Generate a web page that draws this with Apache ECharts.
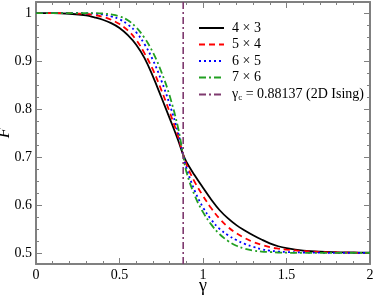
<!DOCTYPE html>
<html>
<head>
<meta charset="utf-8">
<script src="https://cdn.jsdelivr.net/npm/echarts@6/dist/echarts.min.js"></script>
<style>html,body{margin:0;padding:0;background:#fff;}#c{width:374px;height:295px;}</style>
</head>
<body>
<div id="c"></div>
<script>
const gamma = [0,0.1,0.2,0.3,0.35,0.4,0.45,0.5,0.55,0.6,0.65,0.7,0.75,0.8,0.85,0.88,0.9,0.95,1.0,1.05,1.1,1.15,1.2,1.25,1.3,1.35,1.4,1.45,1.5,1.6,1.7,1.8,1.9,2.0];
const f4x3 = [1.0,0.9999,0.9985,0.995,0.991,0.986,0.979,0.969,0.954,0.934,0.906,0.868,0.825,0.781,0.736,0.706,0.690,0.662,0.636,0.611,0.589,0.572,0.558,0.547,0.537,0.528,0.520,0.514,0.510,0.505,0.5025,0.5015,0.501,0.5005];
const f5x4 = [1.0,1.0,0.9998,0.998,0.996,0.992,0.986,0.977,0.964,0.944,0.916,0.882,0.840,0.794,0.744,0.706,0.685,0.648,0.619,0.593,0.571,0.554,0.541,0.531,0.523,0.517,0.512,0.509,0.507,0.504,0.502,0.501,0.5005,0.5];
const f6x5 = [1.0,1.0,1.0,0.9995,0.999,0.997,0.993,0.987,0.976,0.960,0.935,0.902,0.860,0.810,0.752,0.706,0.678,0.630,0.595,0.569,0.550,0.537,0.527,0.519,0.513,0.508,0.505,0.503,0.502,0.501,0.5005,0.5,0.5,0.5];
const f7x6 = [1.0,1.0,1.0,1.0,0.9998,0.999,0.997,0.993,0.985,0.970,0.948,0.918,0.878,0.828,0.762,0.706,0.670,0.620,0.585,0.559,0.539,0.525,0.515,0.509,0.505,0.503,0.502,0.501,0.5005,0.5,0.5,0.5,0.5,0.5];
const gammaC = 0.88137;
const seriesNames = ['4 × 3','5 × 4','6 × 5','7 × 6','γc = 0.88137 (2D Ising)'];
const yMajorTicks = [0.5,0.6,0.7,0.8,0.9,1.0];
const yMinorTicks = [0.5,0.525,0.55,0.575,0.6,0.625,0.65,0.675,0.7,0.725,0.75,0.775,0.8,0.825,0.85,0.875,0.9,0.925,0.95,0.975,1.0];
const yMin = 0.477, yMax = 1.023;

const gray = '#808080';
const serif = 'Liberation Serif';

function pairs(ys){ return gamma.map((g,i)=>[g, ys[i]]); }

function xAx(pos, showLabel){
  return {
    type:'value', min:0, max:2, interval:0.5, position:pos,
    axisLine:{show:true, onZero:false, lineStyle:{color:gray, width:2}},
    axisTick:{show:true, inside:true, length:6, lineStyle:{color:gray, width:1}},
    minorTick:{show:true, splitNumber:5, length:3, lineStyle:{color:gray, width:1}},
    splitLine:{show:false}, minorSplitLine:{show:false},
    axisLabel:{show:showLabel, color:'#000', fontFamily:serif, fontSize:14, margin:4},
    name: showLabel ? 'γ' : '', nameLocation:'middle', nameGap:13, nameMoveOverlap:false,
    nameTextStyle:{color:'#000', fontFamily:serif, fontSize:18, verticalAlign:'top'}
  };
}
function yAx(pos, ticks, len, showLabel, showLine){
  return {
    type:'value', min:yMin, max:yMax, position:pos, offset:0,
    axisLine:{show:showLine, onZero:false, lineStyle:{color:gray, width:2}},
    axisTick:{show:true, inside:true, length:len, customValues:ticks, lineStyle:{color:gray, width:1}},
    splitLine:{show:false},
    axisLabel:{show:showLabel, customValues:yMajorTicks, color:'#000', fontFamily:serif, fontSize:14, margin:4},
    name: showLabel ? 'F' : '', nameLocation:'middle', nameGap:23, nameRotate:90, nameMoveOverlap:false,
    nameTextStyle:{color:'#000', fontFamily:serif, fontSize:17, fontStyle:'italic'}
  };
}

const chart = echarts.init(document.getElementById('c'), null, {renderer:'canvas'});
const lineBase = {type:'line', showSymbol:false, symbol:'none', xAxisIndex:0, yAxisIndex:0, animation:false, smooth:0.4};
chart.setOption({
  backgroundColor:'#fff',
  animation:false,
  grid:{left:36, right:4, top:2, bottom:31, containLabel:false, outerBoundsMode:'none'},
  xAxis:[xAx('bottom', true), xAx('top', false)],
  yAxis:[yAx('left', yMajorTicks, 6, true, true), yAx('left', yMinorTicks, 3, false, false),
         yAx('right', yMajorTicks, 6, false, true), yAx('right', yMinorTicks, 3, false, false)],
  legend:{
    orient:'vertical', left:198, top:21, padding:0, itemWidth:25, itemHeight:10, itemGap:2.5,
    data:seriesNames,
    itemStyle:{opacity:0},
    textStyle:{color:'#000', fontFamily:serif, fontSize:14, lineHeight:14, padding:[0,0,0,3],
      rich:{n:{fontFamily:serif, fontSize:14, lineHeight:14, color:'#000'}, s:{fontFamily:serif, fontSize:9, lineHeight:14, color:'#000', padding:[6,0,0,0]}}},
    formatter: function(name){
      if (name === seriesNames[4]) return '{n|γ}{s|c}{n| = 0.88137 (2D Ising)}';
      return name;
    }
  },
  series:[
    Object.assign({}, lineBase, {name:seriesNames[0], data:pairs(f4x3), lineStyle:{color:'#000000', width:1.8, type:'solid'}, itemStyle:{color:'#000000'}}),
    Object.assign({}, lineBase, {name:seriesNames[1], data:pairs(f5x4), lineStyle:{color:'#ff0000', width:1.8, type:[6,4]}, itemStyle:{color:'#ff0000'}}),
    Object.assign({}, lineBase, {name:seriesNames[2], data:pairs(f6x5), lineStyle:{color:'#0000ff', width:1.8, type:[2,3]}, itemStyle:{color:'#0000ff'}}),
    Object.assign({}, lineBase, {name:seriesNames[3], data:pairs(f7x6), lineStyle:{color:'#22a022', width:1.8, type:[7,3,2,3]}, itemStyle:{color:'#22a022'}}),
    Object.assign({}, lineBase, {name:seriesNames[4], smooth:false, data:[[gammaC, yMin],[gammaC, yMax]], lineStyle:{color:'#7f3a6f', width:1.6, type:[7,3,2,3]}, itemStyle:{color:'#7f3a6f'}})
  ]
});
</script>
</body>
</html>
